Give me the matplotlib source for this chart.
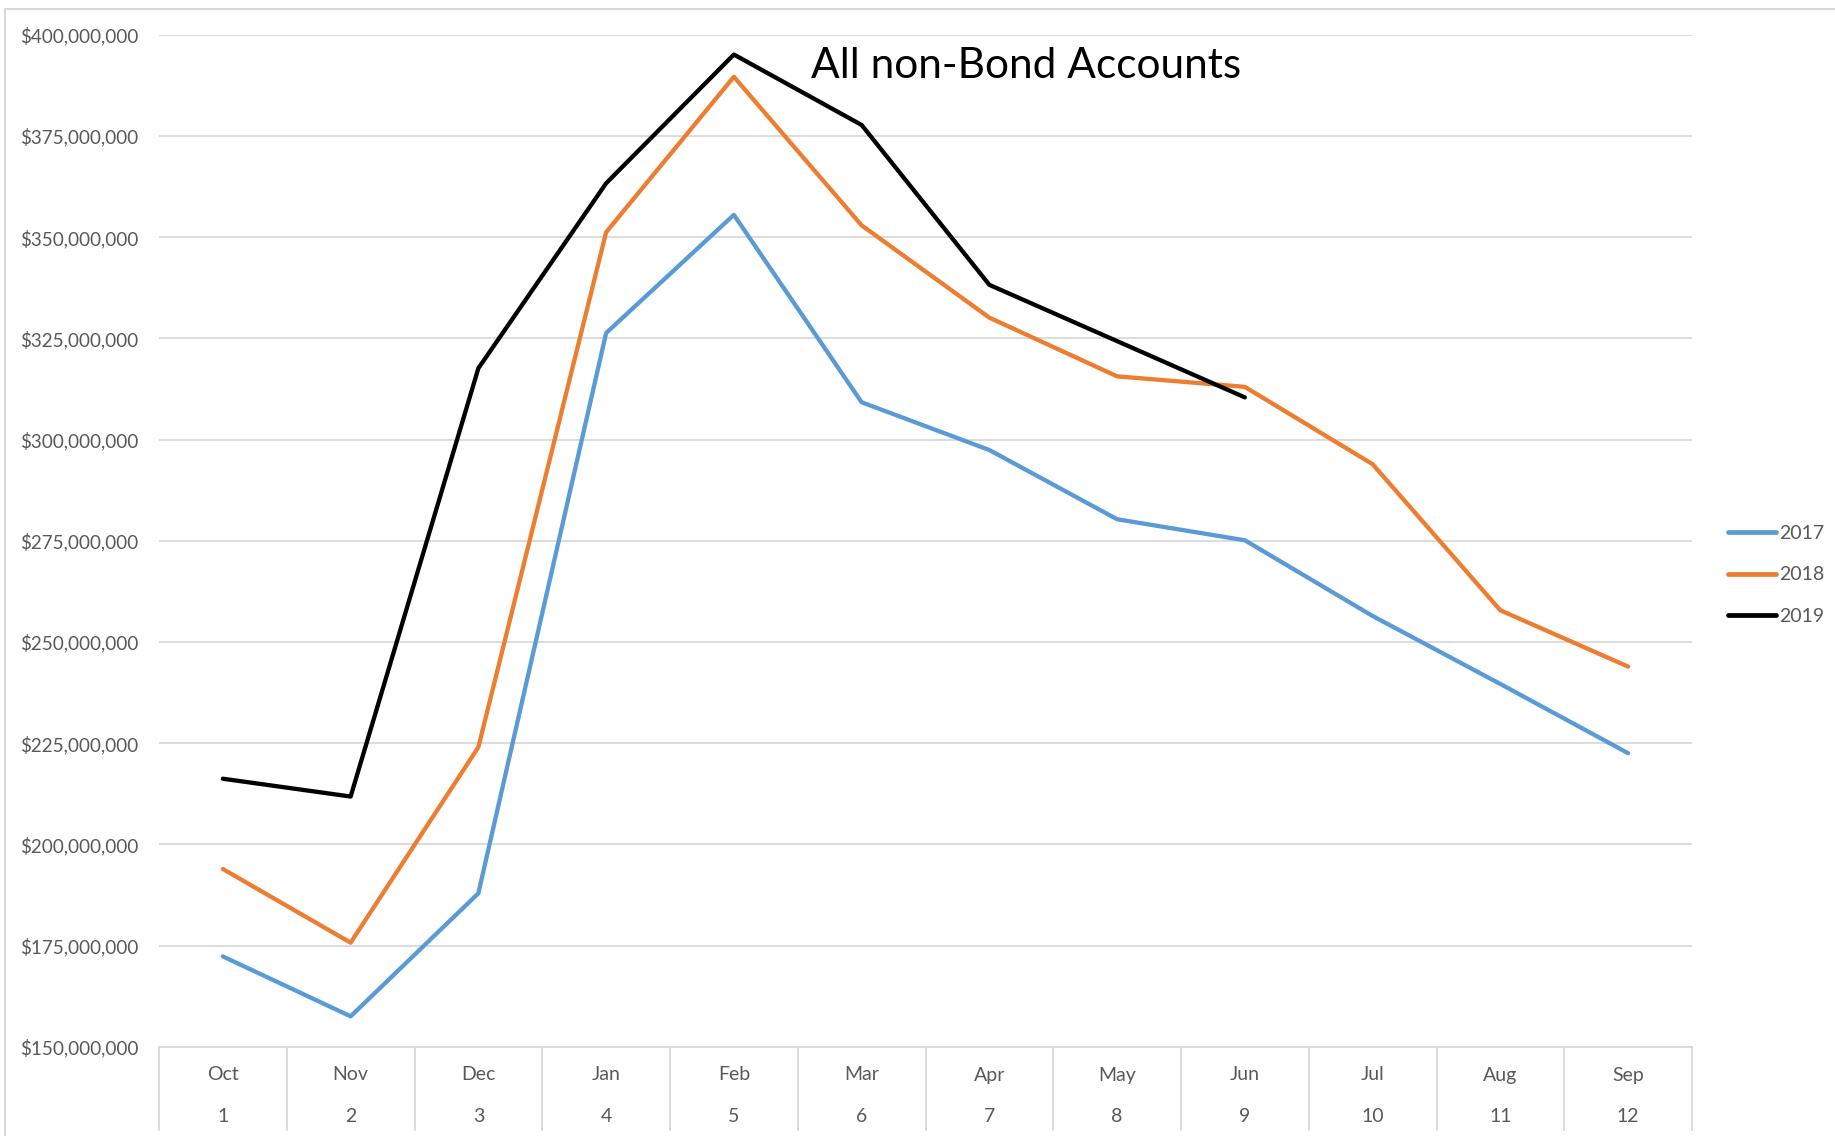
import matplotlib
matplotlib.use("Agg")
import matplotlib.pyplot as plt
from matplotlib.lines import Line2D
from matplotlib.transforms import blended_transform_factory
from matplotlib.ticker import FuncFormatter, MultipleLocator

plt.rcParams['font.family'] = ['Lato', 'DejaVu Sans']

months = ["Oct", "Nov", "Dec", "Jan", "Feb", "Mar", "Apr", "May", "Jun", "Jul", "Aug", "Sep"]
month_nums = ["1", "2", "3", "4", "5", "6", "7", "8", "9", "10", "11", "12"]
series_names = ["2017", "2018", "2019"]
v2017 = [172.3e6, 157.5e6, 187.9e6, 326.3e6, 355.5e6, 309.2e6, 297.4e6, 280.3e6, 275.1e6, 256.4e6, 239.6e6, 222.5e6]
v2018 = [193.9e6, 175.7e6, 224.0e6, 351.2e6, 389.6e6, 352.9e6, 330.1e6, 315.6e6, 313.0e6, 293.9e6, 257.8e6, 243.9e6]
v2019 = [216.2e6, 211.8e6, 317.6e6, 363.3e6, 395.1e6, 377.7e6, 338.2e6, 324.3e6, 310.4e6]
colors = ["#5B9BD5", "#ED7D31", "#000000"]
title = "All non-Bond Accounts"

W, H = 1835, 1136
fig = plt.figure(figsize=(W / 100, H / 100), dpi=100)
ax = fig.add_axes([159 / W, 1 - 1046.7 / H, (1692 - 159) / W, (1046.7 - 34.7) / H])

x = list(range(len(months)))
for vals, name, c in zip([v2017, v2018, v2019], series_names, colors):
    ax.plot(x[:len(vals)], vals, color=c, lw=3.1, label=name, solid_capstyle='round',
            solid_joinstyle='round', zorder=3)

ax.set_xlim(-0.5, len(months) - 0.5)
ax.set_ylim(150e6, 400e6)
ax.yaxis.set_major_locator(MultipleLocator(25e6))
ax.yaxis.set_major_formatter(FuncFormatter(lambda v, p: "${:,.0f}".format(v)))
ax.grid(axis='y', color='#D9D9D9', lw=1.3, zorder=0)
ax.set_axisbelow(True)
for s in ['top', 'right', 'left']:
    ax.spines[s].set_visible(False)
ax.spines['bottom'].set_color('#D9D9D9')
ax.spines['bottom'].set_linewidth(1.3)
ax.tick_params(axis='y', length=0, pad=15, labelsize=13.6, labelcolor='#595959')
ax.tick_params(axis='x', length=0, labelbottom=False)

# category axis table
axh = (1046.7 - 34.7)
trans = blended_transform_factory(ax.transData, ax.transAxes)
ybot = -(1130 - 1046.7) / axh
for b in range(len(months) + 1):
    ax.add_line(Line2D([b - 0.5, b - 0.5], [0, ybot], transform=trans, color='#D9D9D9',
                       lw=1.3, clip_on=False))
for i, (m, n) in enumerate(zip(months, month_nums)):
    ax.text(i, -(1075 - 1046.7) / axh, m, transform=trans, ha='center', va='center',
            fontsize=14, color='#595959')
    ax.text(i, -(1117 - 1046.7) / axh, n, transform=trans, ha='center', va='center',
            fontsize=14, color='#595959')

# title
fig.text(1026 / W, 1 - 66 / H, title, ha='center', va='center', fontsize=30.5, color='black')

# legend
leg = fig.legend(loc='center left', bbox_to_anchor=(1728 / W, 1 - 575 / H), frameon=False,
                 fontsize=14, handlelength=2.45, handletextpad=0.2, labelspacing=1.25,
                 borderaxespad=0, borderpad=0)
for t in leg.get_texts():
    t.set_color('#595959')
for h in leg.get_lines():
    h.set_linewidth(3.4)

# outer chart border (left and top)
fig.add_artist(Line2D([5 / W, 5 / W], [0, 1 - 9 / H], transform=fig.transFigure,
                      color='#D9D9D9', lw=1.5))
fig.add_artist(Line2D([5 / W, 1], [1 - 9 / H, 1 - 9 / H], transform=fig.transFigure,
                      color='#D9D9D9', lw=1.5))

fig.savefig("out.png", dpi=100)
